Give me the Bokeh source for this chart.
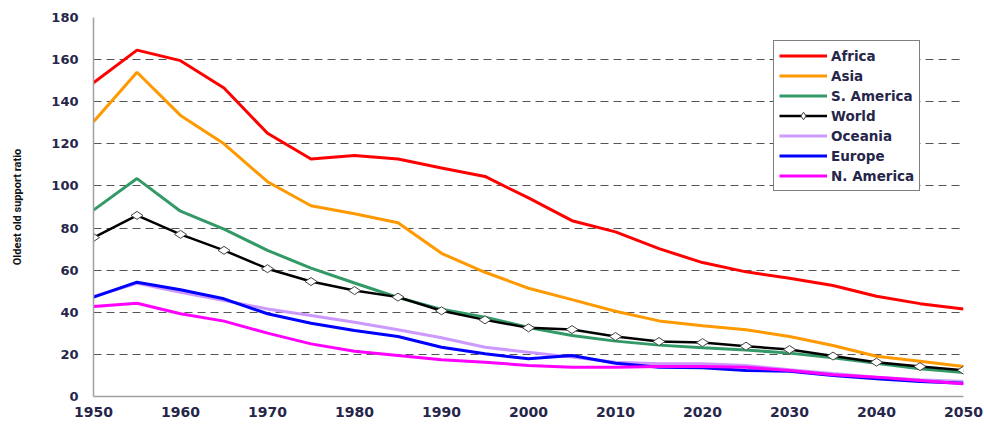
import math
from bokeh.plotting import figure
from bokeh.models import Range1d, FixedTicker, Legend, LegendItem, Label
from bokeh.embed import file_html
from bokeh.resources import INLINE

years = [1950, 1955, 1960, 1965, 1970, 1975, 1980, 1985, 1990, 1995, 2000,
         2005, 2010, 2015, 2020, 2025, 2030, 2035, 2040, 2045, 2050]
africa = [149, 164.5, 159.5, 146.5, 125, 112.8, 114.5, 112.8, 108.5, 104.5, 94.3,
          83.5, 78.2, 70.2, 63.6, 59.2, 56.2, 52.7, 47.6, 44.1, 41.6]
asia = [130.5, 154, 133.5, 120, 102, 90.6, 86.8, 82.5, 68, 59, 51.4,
        46, 40.5, 35.9, 33.6, 31.7, 28.5, 24.2, 19.1, 16.7, 14.3]
s_america = [88.5, 103.5, 88, 79.5, 69.4, 61, 53.9, 47, 41.4, 37.7, 32.8,
             29, 26.3, 24.4, 23.1, 22.1, 20.6, 18.4, 15.8, 13.2, 11.4]
world = [75.5, 86, 77, 69.4, 60.7, 54.6, 50.3, 47.2, 40.7, 36.4, 32.6,
         31.8, 28.5, 26.1, 25.6, 23.9, 22.3, 19.2, 16.3, 14.2, 12.5]
oceania = [47.5, 53.8, 49.5, 45.6, 41.6, 38.5, 35.3, 31.7, 27.9, 23.4, 21,
           18.7, 16.3, 15.5, 15.5, 14.7, 12.7, 10.9, 9.2, 7.9, 7.1]
europe = [47.2, 54.3, 50.7, 46.4, 39.3, 34.8, 31.3, 28.5, 23.4, 20.3, 17.9,
          19.5, 15.8, 13.9, 13.6, 12.3, 12, 10, 8.4, 7.1, 6.3]
n_america = [42.7, 44.3, 39.3, 35.8, 30.1, 25, 21.5, 19.5, 17.4, 16.3, 14.7,
             13.9, 13.9, 14.2, 14.2, 13.9, 12.3, 10.3, 9.2, 7.6, 6]

x_ticks = [1950, 1960, 1970, 1980, 1990, 2000, 2010, 2020, 2030, 2040, 2050]
y_ticks = [0, 20, 40, 60, 80, 100, 120, 140, 160, 180]
x_title = "Years"
y_title = "Oldest old support ratio"

label_color = "#26264a"

p = figure(width=984, height=445, output_backend="svg", toolbar_location=None,
           x_range=Range1d(1950, 2050), y_range=Range1d(0, 180),
           min_border_left=93, min_border_right=21, min_border_top=17,
           min_border_bottom=49)
p.outline_line_color = None
p.background_fill_color = "white"
p.border_fill_color = "white"

p.xgrid.grid_line_color = None
p.ygrid.ticker = FixedTicker(ticks=y_ticks[1:])
p.ygrid.grid_line_color = "#555555"
p.ygrid.grid_line_dash = "8 5"
p.ygrid.grid_line_width = 1

for ax in (p.xaxis[0], p.yaxis[0]):
    ax.axis_line_color = "#a0a0a0"
    ax.axis_line_width = 1.5
    ax.major_tick_line_color = None
    ax.major_tick_out = 0
    ax.major_tick_in = 0
    ax.minor_tick_line_color = None
    ax.minor_tick_out = 0
    ax.minor_tick_in = 0
    ax.major_label_text_font = "DejaVu Sans"
    ax.major_label_text_font_style = "bold"
    ax.major_label_text_color = label_color

p.xaxis.ticker = FixedTicker(ticks=x_ticks)
p.yaxis.ticker = FixedTicker(ticks=y_ticks)
p.xaxis.major_label_text_font_size = "14px"
p.yaxis.major_label_text_font_size = "13px"
p.xaxis.major_label_standoff = 10
p.yaxis.major_label_standoff = 15

p.yaxis.axis_label = y_title
p.yaxis.axis_label_text_font = "Roboto"
p.yaxis.axis_label_text_font_style = "bold"
p.yaxis.axis_label_text_font_size = "11px"
p.yaxis.axis_label_text_color = "#111111"
p.yaxis.axis_label_standoff = 24

series = [
    ("Africa", africa, "#ff0000"),
    ("Asia", asia, "#ff9900"),
    ("S. America", s_america, "#339966"),
    ("World", world, "#000000"),
    ("Oceania", oceania, "#cc99ff"),
    ("Europe", europe, "#0000ff"),
    ("N. America", n_america, "#ff00ff"),
]

items = []
for name, vals, color in series:
    if name == "World":
        r1 = p.line(years, vals, line_color=color, line_width=2.5)
        r2 = p.scatter(years, vals, marker="diamond", size=12, angle=math.pi / 2,
                       fill_color="white", line_color="#444444", line_width=1)
        items.append(LegendItem(label=name, renderers=[r1, r2]))
    else:
        r = p.line(years, vals, line_color=color, line_width=3)
        items.append(LegendItem(label=name, renderers=[r]))

legend = Legend(items=items, location=(680, 205), margin=0,
                padding=5, spacing=1, glyph_width=48, glyph_height=19,
                label_height=19, label_standoff=4,
                label_text_font="DejaVu Sans", label_text_font_style="bold",
                label_text_font_size="13.5px", label_text_color=label_color,
                border_line_color="#000000", border_line_width=1,
                background_fill_color="white", background_fill_alpha=1.0)
p.add_layout(legend, "center")

p.add_layout(Label(x=2000, y=-14.5, text=x_title, text_align="center",
                   text_baseline="top", text_font="DejaVu Sans",
                   text_font_style="bold", text_font_size="12px",
                   text_color="#111111"))

open("out.html", "w").write(file_html(p, INLINE))
